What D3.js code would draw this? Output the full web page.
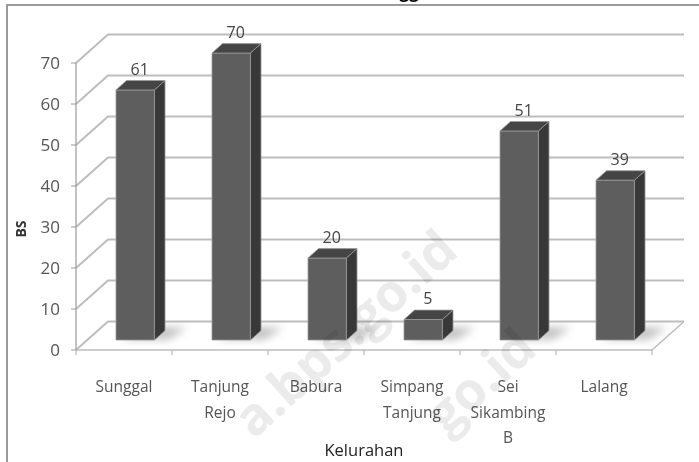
<!DOCTYPE html>
<html><head><meta charset="utf-8">
<script src="https://cdn.jsdelivr.net/npm/d3@7"></script>
<style>body{margin:0;background:#fff}svg{display:block}</style>
</head><body>
<svg id="c" width="699" height="462"></svg>
<script>
const categories = [["Sunggal"],["Tanjung","Rejo"],["Babura"],["Simpang","Tanjung"],["Sei","Sikambing","B"],["Lalang"]];
const values = [61, 70, 20, 5, 51, 39];
const yTicks = [0,10,20,30,40,50,60,70];
const titleText = "Sunggal";
const xTitle = "Kelurahan";
const yTitle = "BS";
const watermarks = ["a.bps.go.id", "go.id"];

const svg = d3.select("#c");
const font = "'Open Sans', 'Liberation Sans', sans-serif";
const DX = 32, DY = -28.5;
const t1 = 0.35, t2 = 0.68;
const y = d3.scaleLinear().domain([0,70]).range([350,63]);
const x = d3.scaleBand().domain(d3.range(categories.length)).range([76,652]).padding(0);
const P = (xx, v, t) => [xx + DX*t, y(v) + DY*t];

const defs = svg.append("defs");
defs.append("filter").attr("id","blur").attr("x","-50%").attr("y","-50%").attr("width","200%").attr("height","200%")
  .append("feGaussianBlur").attr("stdDeviation",4);

svg.append("path").attr("d","M7,462 V5 H699").attr("fill","none").attr("stroke","#9a9a9a").attr("stroke-width",2);

// clipped title (only descenders visible, as in the reference)
svg.append("text").attr("x",401).attr("y",-2).attr("text-anchor","middle")
  .attr("font-family",font).attr("font-weight","bold").attr("font-size",17).attr("fill","#000").text(titleText);

const grid = "#bdbdbd";
yTicks.forEach(v => {
  const a = P(76, v, 0), b = P(76, v, 1), c = P(652, v, 1);
  svg.append("path").attr("d",`M${a}L${b}L${c[0]},${c[1]}`).attr("fill","none").attr("stroke",grid).attr("stroke-width",2);
});
{
  const a = P(76,0,0), b = P(652,0,0), c = P(652,0,1);
  svg.append("path").attr("d",`M${a}L${b}L${c}`).attr("fill","none").attr("stroke",grid).attr("stroke-width",1.5);
}

svg.append("line").attr("x1",76).attr("x2",76).attr("y1",y(70)).attr("y2",y(0)).attr("stroke","#9a9a9a").attr("stroke-width",1.2);
yTicks.forEach(v => {
  svg.append("line").attr("x1",71).attr("x2",76).attr("y1",y(v)).attr("y2",y(v)).attr("stroke","#9a9a9a");
  svg.append("text").attr("x",60).attr("y",y(v)).attr("dy","0.36em").attr("text-anchor","end")
    .attr("font-family",font).attr("font-size",17).attr("fill","#555").text(v);
});
d3.range(categories.length+1).forEach(i => {
  const xx = 76 + i*x.step();
  svg.append("line").attr("x1",xx).attr("x2",xx).attr("y1",350).attr("y2",355).attr("stroke","#aaa");
});

values.forEach((v,i) => {
  const c = x(i) + x.bandwidth()/2;
  const w = x.bandwidth()*0.4;
  const x0 = c - w/2, x1 = c + w/2;
  const s0 = P(x0+6,0,t1+0.02), s1 = P(x1+14,0,t1+0.02), s2 = P(x1+18,0,t2+0.12), s3 = P(x0+10,0,t2+0.12);
  svg.append("path").attr("d",`M${s0}L${s1}L${s2}L${s3}Z`).attr("fill","#999").attr("opacity",0.6).attr("filter","url(#blur)");
  const f = [P(x0,0,t1),P(x1,0,t1),P(x1,v,t1),P(x0,v,t1)];
  const side = [P(x1,0,t1),P(x1,0,t2),P(x1,v,t2),P(x1,v,t1)];
  const top = [P(x0,v,t1),P(x1,v,t1),P(x1,v,t2),P(x0,v,t2)];
  const poly = p => "M" + p.join("L") + "Z";
  svg.append("path").attr("d",poly(side)).attr("fill","#383838").attr("stroke","#888").attr("stroke-width",0.8);
  svg.append("path").attr("d",poly(f)).attr("fill","#5e5e5e").attr("stroke","#9a9a9a").attr("stroke-width",0.8);
  svg.append("path").attr("d",poly(top)).attr("fill","#454545").attr("stroke","#999").attr("stroke-width",0.8);
  const lp = P(c, v, t2);
  svg.append("text").attr("x",lp[0]-6).attr("y",lp[1]-6).attr("text-anchor","middle")
    .attr("font-family",font).attr("font-size",16).attr("fill","#444").text(v);
  const tx = svg.append("text").attr("text-anchor","middle").attr("font-family",font).attr("font-size",15.5).attr("fill","#555");
  categories[i].forEach((line,k) => {
    tx.append("tspan").attr("x",c).attr("y",392 + k*25.5).text(line);
  });
});

svg.append("text").attr("x",364).attr("y",456).attr("text-anchor","middle")
  .attr("font-family",font).attr("font-size",16.5).attr("fill","#222").text(xTitle);
svg.append("text").attr("transform","translate(26,229) rotate(-90)").attr("text-anchor","middle")
  .attr("font-family",font).attr("font-weight","bold").attr("font-size",14).attr("fill","#333").text(yTitle);

// faint watermark overlay (multiplied so it never hides anything)
const wm = svg.append("g").style("mix-blend-mode","multiply").attr("pointer-events","none");
wm.append("text").attr("transform","translate(254,440) rotate(-42)")
  .attr("font-family",font).attr("font-weight","bold").attr("font-size",52).attr("fill","#ebebeb").text(watermarks[0]);
wm.append("text").attr("transform","translate(446,436) rotate(-42)")
  .attr("font-family",font).attr("font-weight","bold").attr("font-size",52).attr("fill","#ebebeb").text(watermarks[1]);
</script>
</body></html>
